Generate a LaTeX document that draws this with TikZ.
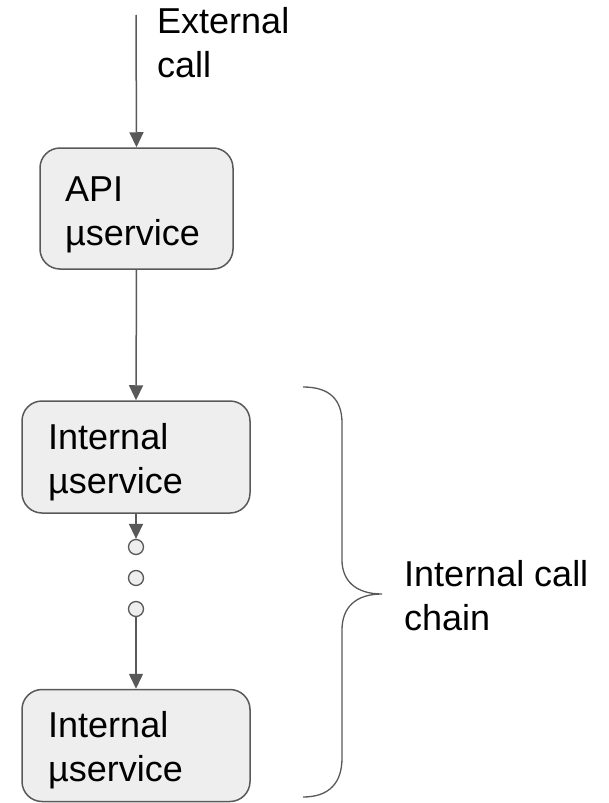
\documentclass[tikz,border=0pt]{standalone}
\usepackage{fontspec}
\setmainfont{Liberation Sans}
\usetikzlibrary{arrows.meta}
\definecolor{linecol}{HTML}{595959}
\definecolor{boxfill}{HTML}{EEEEEE}
\tikzset{
  svcbox/.style={draw=linecol, fill=boxfill, line width=1.5pt, rounded corners=20pt, inner sep=0pt},
  txt/.style={anchor=base west, inner sep=0pt, align=left, font=\fontsize{36}{44}\selectfont},
  conn/.style={draw=linecol, line width=1.5pt, -{Triangle[length=15pt,width=14pt]}},
  plain/.style={draw=linecol, line width=1.5pt},
  dot/.style={circle, draw=linecol, fill=boxfill, line width=1.3pt, minimum size=15pt, inner sep=0pt}
}
\begin{document}
\begin{tikzpicture}[x=1pt,y=-1pt]
\useasboundingbox (0,0) rectangle (609,803);
% boxes
\node[svcbox, minimum width=193pt, minimum height=121pt] (api) at (136.5,208.5) {};
\node[svcbox, minimum width=228pt, minimum height=112pt] (int1) at (136,457) {};
\node[svcbox, minimum width=228pt, minimum height=112pt] (int2) at (136,745.5) {};
% texts (anchor at baseline of last line)
\node[txt] (apit) at (65,245) {API\\µservice};
\node[txt] (int1t) at (48,493) {Internal\\µservice};
\node[txt] (int2t) at (48,781) {Internal\\µservice};
\node[txt] (ext) at (157,77) {External\\call};
\node[txt] (chaint) at (404,630) {Internal call\\chain};
% dots
\node[dot] (d1) at (136,547) {};
\node[dot] (d2) at (136,578) {};
\node[dot] (d3) at (136,609) {};
% connectors
\coordinate (start) at (136,15);
\draw[conn] (start) -- (api.north);
\draw[conn] (api.south) -- (int1.north);
\draw[conn] (int1.south) -- (d1.north);
\draw[conn] (d3.south) -- (int2.north);
% brace
\coordinate (bt) at (303,387);
\coordinate (btip) at (382,594);
\coordinate (bb) at (303,797);
\draw[plain, line width=1.3pt] (bt) .. controls (330,387) and (342,400) .. (342,423)
  -- (342,560) .. controls (342,580) and (355,594) .. (btip)
  .. controls (355,594) and (342,608) .. (342,630)
  -- (342,758) .. controls (342,782) and (330,797) .. (bb);
\end{tikzpicture}
\end{document}
